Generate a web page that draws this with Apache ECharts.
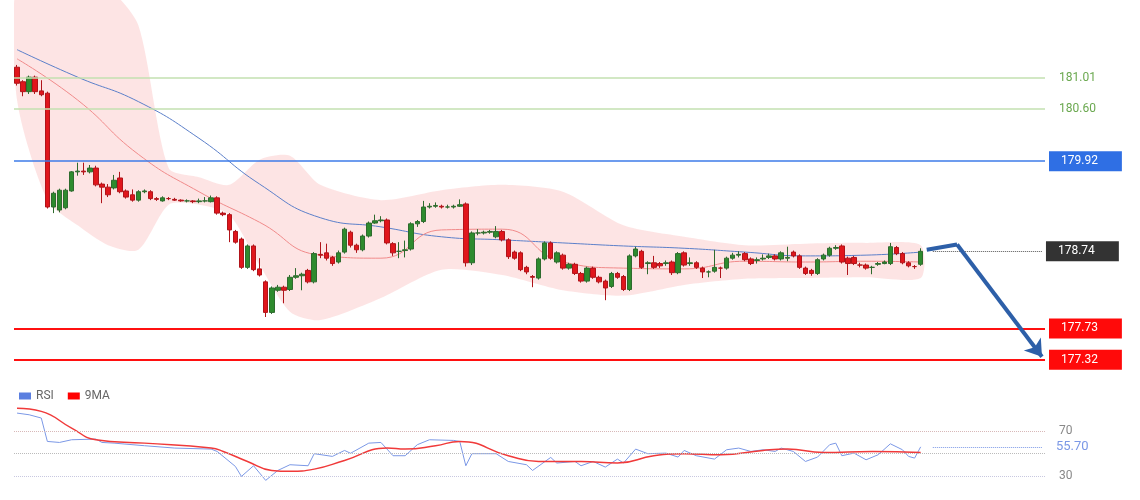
<!DOCTYPE html>
<html>
<head>
<meta charset="utf-8">
<script src="https://cdn.jsdelivr.net/npm/echarts@6/dist/echarts.min.js"></script>
<style>html,body{margin:0;padding:0;background:#fff}#chart{width:1140px;height:500px}</style>
</head>
<body>
<div id="chart"></div>
<script>
// candles: [open, close, low, high]
const candles = [
  [181.15,180.94,180.91,181.18],[180.96,180.83,180.77,180.98],[180.83,181.02,180.80,181.04],[181.02,180.83,180.80,181.04],
  [180.84,180.79,180.77,180.98],[180.81,179.32,179.30,180.83],[179.32,179.50,179.24,179.52],[179.28,179.54,179.25,179.56],
  [179.31,179.54,179.29,179.56],[179.53,179.78,179.52,179.79],[179.78,179.79,179.73,179.90],[179.79,179.78,179.74,179.90],
  [179.78,179.83,179.76,179.87],[179.83,179.61,179.59,179.86],[179.62,179.58,179.37,179.64],[179.58,179.48,179.45,179.62],
  [179.57,179.67,179.55,179.74],[179.70,179.52,179.50,179.78],[179.53,179.45,179.43,179.55],[179.48,179.41,179.39,179.55],
  [179.41,179.52,179.39,179.54],[179.52,179.53,179.50,179.55],[179.52,179.43,179.41,179.54],[179.43,179.42,179.40,179.45],
  [179.40,179.44,179.39,179.46],[179.43,179.43,179.41,179.45],[179.42,179.41,179.40,179.44],[179.41,179.40,179.39,179.42],
  [179.40,179.40,179.38,179.42],[179.40,179.39,179.37,179.41],[179.39,179.40,179.37,179.43],[179.40,179.40,179.38,179.45],
  [179.39,179.44,179.38,179.47],[179.44,179.24,179.22,179.46],[179.24,179.22,179.20,179.26],[179.22,179.02,178.86,179.24],
  [179.00,178.86,178.84,179.02],[178.90,178.53,178.51,178.92],[178.53,178.81,178.51,178.83],[178.81,178.50,178.48,178.83],
  [178.51,178.43,178.41,178.65],[178.34,177.94,177.88,178.36],[177.94,178.26,177.92,178.28],[178.23,178.27,178.21,178.30],
  [178.27,178.23,178.06,178.29],[178.24,178.40,178.22,178.43],[178.40,178.42,178.38,178.52],[178.42,178.44,178.23,178.46],
  [178.49,178.34,178.32,178.51],[178.34,178.71,178.32,178.73],[178.70,178.69,178.65,178.86],[178.72,178.65,178.62,178.84],
  [178.66,178.58,178.55,178.68],[178.60,178.72,178.58,178.75],[178.73,179.03,178.71,179.05],[178.99,178.82,178.79,179.01],
  [178.82,178.76,178.72,178.84],[178.76,178.94,178.74,178.96],[178.94,179.11,178.92,179.13],[179.11,179.14,179.10,179.22],
  [179.14,179.15,179.12,179.20],[179.15,178.85,178.83,179.17],[178.84,178.72,178.68,178.86],[178.74,178.74,178.65,178.86],
  [178.75,178.76,178.66,178.88],[178.77,179.10,178.75,179.12],[179.10,179.13,179.06,179.15],[179.13,179.32,179.11,179.40],
  [179.32,179.33,179.30,179.37],[179.33,179.34,179.31,179.38],[179.33,179.32,179.30,179.35],[179.32,179.32,179.30,179.35],
  [179.32,179.33,179.30,179.35],[179.33,179.35,179.32,179.42],[179.36,178.59,178.54,179.38],[178.59,178.98,178.56,179.00],
  [178.98,178.98,178.95,179.03],[178.98,178.99,178.96,179.01],[178.99,179.00,178.97,179.02],[178.93,179.00,178.91,179.07],
  [179.00,178.89,178.87,179.02],[178.89,178.67,178.64,178.91],[178.73,178.65,178.63,178.75],[178.72,178.50,178.48,178.74],
  [178.53,178.47,178.44,178.55],[178.41,178.40,178.27,178.43],[178.39,178.64,178.37,178.66],[178.64,178.85,178.62,178.87],
  [178.85,178.65,178.63,178.87],[178.60,178.72,178.58,178.74],[178.69,178.52,178.50,178.71],[178.52,178.57,178.50,178.59],
  [178.57,178.45,178.43,178.59],[178.45,178.35,178.33,178.47],[178.35,178.52,178.33,178.54],[178.52,178.40,178.38,178.54],
  [178.40,178.34,178.32,178.42],[178.35,178.26,178.10,178.37],[178.28,178.45,178.26,178.47],[178.45,178.40,178.38,178.47],
  [178.41,178.24,178.22,178.43],[178.24,178.68,178.22,178.70],[178.68,178.77,178.66,178.80],[178.74,178.53,178.51,178.76],
  [178.58,178.59,178.44,178.61],[178.59,178.53,178.51,178.68],[178.58,178.55,178.52,178.60],[178.58,178.59,178.55,178.62],
  [178.60,178.46,178.43,178.62],[178.46,178.71,178.44,178.73],[178.72,178.56,178.54,178.74],[178.58,178.59,178.55,178.66],
  [178.59,178.53,178.51,178.61],[178.52,178.47,178.39,178.54],[178.47,178.47,178.40,178.49],[178.48,178.53,178.46,178.76],
  [178.52,178.52,178.39,178.54],[178.52,178.65,178.50,178.67],[178.65,178.69,178.63,178.72],[178.69,178.70,178.66,178.74],
  [178.71,178.63,178.61,178.73],[178.64,178.58,178.56,178.66],[178.62,178.63,178.58,178.66],[178.64,178.65,178.62,178.70],
  [178.66,178.68,178.64,178.71],[178.68,178.64,178.62,178.70],[178.64,178.72,178.62,178.74],[178.65,178.66,178.61,178.80],
  [178.73,178.68,178.66,178.75],[178.68,178.53,178.51,178.70],[178.52,178.45,178.43,178.54],[178.49,178.45,178.42,178.51],
  [178.45,178.63,178.43,178.65],[178.64,178.69,178.62,178.71],[178.69,178.78,178.67,178.80],[178.78,178.79,178.76,178.82],
  [178.81,178.60,178.58,178.83],[178.65,178.58,178.43,178.67],[178.66,178.58,178.56,178.68],[178.56,178.56,178.53,178.59],
  [178.56,178.52,178.50,178.58],[178.53,178.53,178.44,178.55],[178.57,178.58,178.55,178.60],[178.58,178.60,178.57,178.62],
  [178.58,178.80,178.56,178.85],[178.79,178.71,178.69,178.81],[178.71,178.59,178.57,178.73],[178.59,178.55,178.53,178.61],
  [178.54,178.54,178.51,178.56],[178.57,178.74,178.55,178.78]
]
const slotCount = 170

// moving averages / bands read at some candle indices
const maIdx = [0,10,20,30,40,50,60,70,80,90,100,110,120,130,140,149]
const maSlow = [181.38,181.02,180.70,180.22,179.62,179.18,179.06,178.93,178.89,178.85,178.81,178.78,178.73,178.68,178.69,178.73]
const maFast = [181.26,180.72,180.01,179.52,179.12,178.69,178.65,179.02,179.03,178.60,178.52,178.51,178.61,178.60,178.61,178.60]
const bandIdx = [0,5,10,15,20,25,30,35,40,45,50,60,70,80,90,100,110,120,130,140,149]
const bandUpper = [182.3,182.4,182.4,182.2,181.70,179.83,179.71,179.61,179.94,179.99,179.61,179.41,179.54,179.61,179.52,179.08,178.93,178.82,178.84,178.85,178.82]
const bandLower = [180.72,179.41,179.08,178.82,178.76,179.35,179.35,179.22,178.56,177.95,177.84,178.13,178.50,178.43,178.23,178.16,178.30,178.38,178.39,178.40,178.39]

// RSI panel
const rsiIdx = [0,2,4,5,7,9,13,14,16,21,26,32,33,36,37,39,40,41,43,45,48,49,52,54,55,58,60,62,64,66,68,72,73,74,75,79,81,84,85,88,89,92,93,95,97,99,100,102,104,107,109,110,112,115,117,119,121,123,125,126,128,130,132,134,135,136,138,140,142,144,146,147,148,149]
const rsiVal = [85.7,84.2,81.3,60.5,59.6,62,62.6,59.6,59,56.7,54.6,53.7,51.6,38.3,29.4,38.9,32.4,25.9,34.7,39.8,38.9,49.6,47.2,52.5,50,59,59.6,47.8,47.8,57.6,62,61.4,60.5,38.9,49.6,49.6,42.7,39.8,34.7,46.3,41.3,42.7,38.9,42.7,37.7,44.8,41.3,53.7,49.6,50.1,46.6,52.5,47.8,44.8,53.1,54.6,51.6,53.1,51.6,54.6,51.6,42.7,46.6,57.6,59,47.8,50.1,44.2,48.7,58.4,53.1,47.2,45.7,55.7]
const ma9Idx = [0,4,9,13,21,32,34,38,42,45,49,54,61,64,69,73,81,86,93,99,105,110,116,123,127,133,141,149]
const ma9Val = [90.1,87.2,72.4,62,59,54.6,51.6,42.7,34.7,33.9,35.9,43.6,54.6,53.7,56.7,60.5,47.8,42.7,42.7,41.3,47.8,49.6,48.7,52.5,53.7,50.7,51.6,50.7]

const cats = []
for (let i = 0; i < slotCount; i++) cats.push(String(i))

function sparse(idx, vals) {
  const out = new Array(slotCount).fill(null)
  idx.forEach((k, j) => { out[k] = vals[j] })
  return out
}

const chart = echarts.init(document.getElementById('chart'))

function priceLine(v, color, width, type, labelBg, labelColor, textOnly) {
  return {
    yAxis: v,
    lineStyle: { color: color, width: width, type: type },
    label: textOnly ? {
      show: true, position: 'end', formatter: v.toFixed(2), color: labelColor, fontSize: 12, distance: 14
    } : {
      show: true, position: 'end', formatter: v.toFixed(2), color: labelColor, fontSize: 12,
      backgroundColor: labelBg, padding: [4, 24, 4, 12], distance: 4
    }
  }
}

chart.setOption({
  animation: false,
  textStyle: { fontFamily: 'Roboto, sans-serif' },
  grid: [
    { left: 14, right: 95, top: 0, height: 372 },
    { left: 14, right: 95, top: 406, height: 81 }
  ],
  legend: {
    left: 14, top: 385, itemWidth: 12, itemHeight: 7, itemGap: 14,
    textStyle: { color: '#666', fontSize: 12 },
    data: [{ name: 'RSI', icon: 'rect' }, { name: '9MA', icon: 'rect' }]
  },
  xAxis: [
    { type: 'category', data: cats, gridIndex: 0, show: false },
    { type: 'category', data: cats, gridIndex: 1, show: false }
  ],
  yAxis: [
    { type: 'value', gridIndex: 0, min: 177.16, max: 182.03, show: false },
    { type: 'value', gridIndex: 1, min: 20, max: 92, show: false }
  ],
  series: [
    {
      type: 'custom', xAxisIndex: 0, yAxisIndex: 0, clip: true, silent: true, z: 1,
      data: [[0, 0]],
      renderItem: function (params, api) {
        const pts = []
        bandIdx.forEach((k, j) => pts.push(api.coord([k, bandUpper[j]])))
        for (let j = bandIdx.length - 1; j >= 0; j--) pts.push(api.coord([bandIdx[j], bandLower[j]]))
        return { type: 'polygon', shape: { points: pts, smooth: 0.25 }, style: { fill: 'rgba(250,170,170,0.32)' } }
      }
    },
    {
      type: 'line', data: sparse(maIdx, maSlow), connectNulls: true, smooth: true, symbol: 'none',
      lineStyle: { color: '#5b7fc9', width: 1 }, z: 2
    },
    {
      type: 'line', data: sparse(maIdx, maFast), connectNulls: true, smooth: true, symbol: 'none',
      lineStyle: { color: '#f08a8a', width: 1 }, z: 2
    },
    {
      type: 'candlestick', data: candles, barWidth: 5, z: 3,
      itemStyle: { color: '#2e8b2e', color0: '#e0161c', borderColor: '#2e6b2e', borderColor0: '#b0141a', borderWidth: 1 },
      markLine: {
        symbol: 'none', silent: true,
        data: [
          priceLine(181.01, '#c3e0b0', 1.5, 'solid', null, '#6aa84f', true),
          priceLine(180.60, '#c3e0b0', 1.5, 'solid', null, '#6aa84f', true),
          priceLine(179.92, '#3d7be8', 1.5, 'solid', '#2f6fe4', '#fff'),
          priceLine(177.73, '#ff1010', 2, 'solid', '#ff0a0a', '#fff'),
          priceLine(177.32, '#ff1010', 2, 'solid', '#ff0a0a', '#fff'),
          [
            { coord: [151, 178.74], lineStyle: { color: '#555', width: 1, type: 'dotted' },
              label: { show: true, position: 'end', formatter: '178.74', color: '#fff', backgroundColor: '#333', padding: [4, 24, 4, 12], distance: 4, fontSize: 12 } },
            { coord: [169, 178.74] }
          ],
          [
            { coord: [150, 178.76], lineStyle: { color: '#2d5fa8', width: 4, type: 'solid' }, label: { show: false } },
            { coord: [155, 178.83] }
          ],
          [
            { coord: [155, 178.83], symbol: 'none', lineStyle: { color: '#2d5fa8', width: 4, type: 'solid' }, label: { show: false } },
            { coord: [169, 177.36], symbol: 'arrow', symbolSize: 16 }
          ]
        ]
      }
    },
    {
      name: 'RSI', type: 'line', xAxisIndex: 1, yAxisIndex: 1, data: sparse(rsiIdx, rsiVal),
      connectNulls: true, symbol: 'none', itemStyle: { color: '#5b7fe0' },
      lineStyle: { color: '#7b98e6', width: 1 },
      markLine: {
        symbol: 'none', silent: true,
        data: [
          { yAxis: 70, lineStyle: { color: '#d8b8b8', type: 'dotted', width: 1 }, label: { show: true, position: 'end', formatter: '70', color: '#888', distance: 14 } },
          { yAxis: 50, lineStyle: { color: '#bbb', type: 'dotted', width: 1 }, label: { show: false } },
          { yAxis: 30, lineStyle: { color: '#c8c8e0', type: 'dotted', width: 1 }, label: { show: true, position: 'end', formatter: '30', color: '#888', distance: 14 } },
          [
            { coord: [151, 55.7], lineStyle: { color: '#7b98e6', type: 'dotted', width: 1 },
              label: { show: true, position: 'end', formatter: '55.70', color: '#7b98e6', distance: 14, fontSize: 13 } },
            { coord: [169, 55.7] }
          ]
        ]
      }
    },
    {
      name: '9MA', type: 'line', xAxisIndex: 1, yAxisIndex: 1, data: sparse(ma9Idx, ma9Val),
      connectNulls: true, smooth: true, symbol: 'none', itemStyle: { color: '#f00' },
      lineStyle: { color: '#f03a3a', width: 1.5 }
    }
  ]
})
</script>
</body>
</html>
